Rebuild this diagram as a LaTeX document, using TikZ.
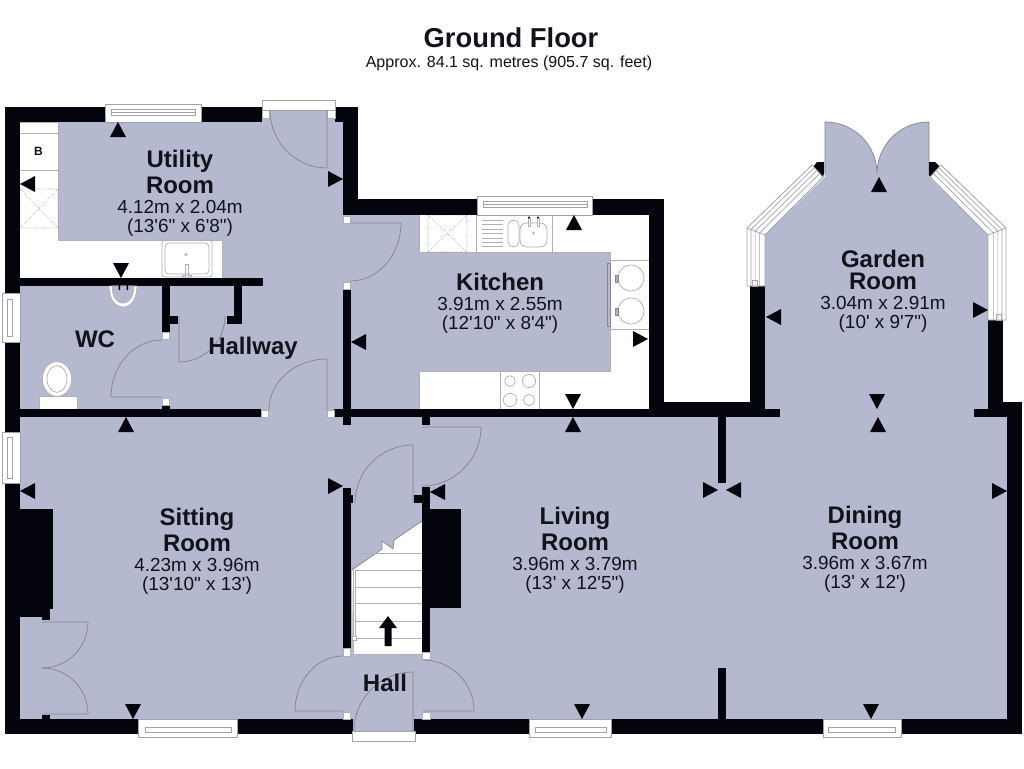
\documentclass[tikz,border=0pt]{standalone}
\usepackage{fontspec}
\usetikzlibrary{calc}
\newfontfamily\lsans{Liberation Sans}
\definecolor{roomc}{HTML}{B4B9CF}
\definecolor{wallc}{HTML}{04040C}
\definecolor{linec}{HTML}{85858F}
\definecolor{winc}{HTML}{A2A2A8}
\definecolor{unitc}{HTML}{B0B0B4}
\definecolor{txtc}{HTML}{12121C}
\newcommand{\nm}{\fontsize{18pt}{18.6pt}\selectfont\bfseries}
\newcommand{\dm}{\fontsize{14.2pt}{14.4pt}\selectfont}
\tikzset{
 roomfill/.style={fill=roomc,draw=none},
 wall/.style={fill=wallc,draw=none},
 doorln/.style={draw=linec,line width=.55pt},
 jamb/.style={fill=white,draw=unitc,line width=.4pt},
 winbox/.style={fill=white,draw=winc,line width=.6pt},
 winln/.style={draw=winc,line width=.5pt},
 unit/.style={draw=unitc,line width=.55pt},
 unitw/.style={fill=white,draw=unitc,line width=.55pt},
 hatch/.style={draw=linec,line width=.4pt,densely dotted},
 tipmark/.style={fill=wallc,draw=none},
 roomlbl/.style={font=\lsans\dm,text=txtc,align=center,inner sep=0pt},
}
\newcommand{\door}[4]{\draw[doorln] (#1) -- (#2) .. controls ($(#2)!.5523!(#3)$) and ($(#4)!.5523!(#3)$) .. (#4);}
\newcommand{\aup}[2]{\fill[tipmark] (#1,#2) -- ++(-8,15) -- ++(16,0) -- cycle;}
\newcommand{\adn}[2]{\fill[tipmark] (#1,#2) -- ++(-8,-15) -- ++(16,0) -- cycle;}
\newcommand{\alf}[2]{\fill[tipmark] (#1,#2) -- ++(15,-8) -- ++(0,16) -- cycle;}
\newcommand{\art}[2]{\fill[tipmark] (#1,#2) -- ++(-15,-8) -- ++(0,16) -- cycle;}
\newcommand{\wb}[4]{\fill[wall] (#1,#2) rectangle (#3,#4);}
\newcommand{\js}[2]{\draw[jamb] (#1,#2) rectangle ++(7.5,7.5);}
\begin{document}
\begin{tikzpicture}[x=.75pt,y=-.75pt]
\useasboundingbox (0,0) rectangle (1024,768);
\fill[white] (0,0) rectangle (1024,768);

% floors
\fill[roomfill] (20,122) -- (262,122) -- (262,110) -- (335,110) -- (335,122) -- (345,122) -- (345,215) -- (649,215) -- (649,409) -- (1007,409) -- (1007,719) -- (414,719) -- (414,731) -- (353,731) -- (353,719) -- (20,719) -- cycle;
\fill[roomfill] (765,412) -- (765,235) -- (825,177) -- (825,122) .. controls (854,122) and (877,145) .. (877,174) .. controls (877,145) and (900,122) .. (929,122) -- (929,177) -- (988,235) -- (988,412) -- cycle;
\draw[doorln] (825,175) -- (825,122) .. controls (854,122) and (877,145) .. (877,174) .. controls (877,145) and (900,122) .. (929,122) -- (929,175);

% utility units
\fill[white] (20,122) -- (58,122) -- (58,240) -- (222,240) -- (222,278) -- (20,278) -- cycle;
\draw[unit] (20,122) -- (58,122) -- (58,240) -- (222,240) -- (222,278);
\draw[unit] (20,133) -- (58,133) (20,170) -- (58,170);
\draw[hatch] (20,189) rectangle (58,228) (20,189) -- (58,228) (58,189) -- (20,228);
\draw[unit,rounded corners=2pt] (162,240) rectangle (212,277);
\draw[unit,rounded corners=3pt] (165,243) rectangle (209,274);
\draw[unit] (186,254.5) circle[radius=.9pt];
\draw[unit] (185,264) rectangle (188,274) (182,275) rectangle (185,278) (188,275) rectangle (191,278);

% kitchen units
\fill[white] (419,215) rectangle (649,252);
\fill[white] (610,215) rectangle (649,409);
\fill[white] (419,371) rectangle (649,409);
\draw[unit] (419,215) -- (419,252) -- (610,252) -- (610,371) -- (419,371) -- (419,409);
\draw[unit] (476,215) -- (476,252) (552,215) -- (552,252);
\draw[hatch] (428,215) rectangle (467,252) (428,215) -- (467,252) (467,215) -- (428,252);
\foreach \yy in {220,224.5,229,233.5,238,242.5,246.5} {\draw[unit] (482,\yy) -- (503,\yy);}
\draw[unit,rounded corners=4pt] (508,220) rectangle (519,247);
\draw[unit,rounded corners=5pt] (520,223) rectangle (547,247);
\draw[unit] (533.5,233) circle[radius=.9pt];
\draw[unitw] (528,218) rectangle (530,226) (537,218) rectangle (539,226);
\fill[wallc] (529,217.5) circle[radius=.8pt] (538,217.5) circle[radius=.8pt];
\draw[unit] (610,260) rectangle (649,329);
\draw[unit] (631,278) circle[radius=9.8pt] (631,311) circle[radius=9.8pt];
\draw[draw=linec,fill=unitc,line width=.4pt] (615,275) rectangle (618,282) (615,308) rectangle (618,315);
\draw[draw=linec,line width=.5pt] (607,263) rectangle (610,326);
\draw[unit] (500,371) -- (500,409) (539,371) -- (539,409);
\draw[unit] (510,381) circle[radius=4pt] (529,381) circle[radius=5pt] (510,400) circle[radius=5pt] (529,400) circle[radius=4.2pt];

% stairs
\fill[white] (352,570) -- (382,549) -- (382,541) -- (393,549) -- (394,540) -- (422,521) -- (422,654) -- (353,654) -- cycle;
\draw[doorln] (352,570) -- (382,549) -- (382,541) -- (393,549) -- (394,540) -- (422,521);
\draw[unit] (353,570) -- (353,654) -- (422,654);
\foreach \yy in {553,570,587,603,621,638} {\draw[unit] (355,\yy) -- (422,\yy);}
\draw[unit] (355,570) -- (355,636);
\draw[jamb] (352,636) rectangle (356,640.5);
\fill[wall] (379,628) -- (388,616) -- (397,628) -- (391.5,628) -- (391.5,646) -- (384.5,646) -- (384.5,628) -- cycle;

% outer and inner walls
\wb{5}{107}{20}{293}
\wb{5}{342}{20}{432}
\wb{5}{483}{20}{734}
\wb{5}{107}{105}{122}
\wb{201}{107}{262}{122}
\wb{335}{107}{358}{122}
\wb{343}{107}{358}{215}
\wb{343}{199}{477}{215}
\wb{592}{199}{664}{215}
\wb{649}{199}{664}{409}
\wb{649}{402}{765}{417}
\wb{750}{286}{765}{409}
\wb{988}{320}{1003}{409}
\wb{988}{402}{1022}{417}
\wb{1007}{402}{1022}{734}
\wb{5}{719}{353}{734}
\wb{414}{719}{1022}{734}
\wb{20}{278}{263}{286}
\wb{162}{286}{170}{332}
\wb{170}{316}{178}{324}
\wb{234}{286}{242}{324}
\wb{227}{316}{242}{324}
\wb{20}{409}{261}{417}
\wb{162}{405}{170}{409}
\wb{334}{409}{780}{417}
\wb{974}{409}{1022}{417}
\wb{343}{290}{351}{425}
\wb{422}{409}{430}{425}
\wb{343}{488}{351}{649}
\wb{343}{495}{353}{503}
\wb{422}{487}{430}{652}
\wb{414}{495}{430}{503}
\wb{430}{509}{461}{608}
\wb{20}{509}{53}{609}
\wb{20}{609}{50}{617}
\wb{42}{617}{50}{620}
\wb{42}{715}{50}{719}
\wb{718}{417}{726}{483}
\wb{718}{668}{726}{719}
\fill[wall] (813,167) -- (817,162) -- (824,162) -- (824,173) -- (823,177) -- cycle;
\fill[wall] (929,162) -- (935,162) -- (940,167) -- (930,177) -- (929,175) -- cycle;

% jambs
\js{262}{110.5} \js{327.5}{110.5}
\js{343}{216} \js{343}{282}
\js{162}{332} \js{162}{398}
\js{261}{410} \js{327}{410}
\js{343}{648.5} \js{422.5}{652}
\js{343}{712} \js{422.5}{712}

% windows
\draw[winbox] (105,104) rectangle (201,122);
\draw[winln] (111,109) rectangle (195,115) (111,112) -- (195,112);
\draw[winbox] (262,100) rectangle (335,110);
\draw[winbox] (477,196) rectangle (592,215);
\draw[winln] (483,201) rectangle (587,207) (483,204) -- (587,204);
\draw[winbox] (138,719) rectangle (237,737);
\draw[winln] (145,727) rectangle (231,732);
\draw[winbox] (529,719) rectangle (611,737);
\draw[winln] (535,727) rectangle (606,732);
\draw[winbox] (823,719) rectangle (901,737);
\draw[winln] (828,727) rectangle (895,732);
\draw[winbox] (352,731) rectangle (415,741);
\draw[winbox] (2,293) rectangle (20,342);
\draw[winln] (7,299) rectangle (12,336);
\draw[winbox] (2,432) rectangle (20,483);
\draw[winln] (7,437) rectangle (12,478);
% garden windows
\draw[winbox] (823,177) -- (812,165) -- (747,228) -- (747,286) -- (765,286) -- (765,235) -- cycle;
\draw[winln] (819.7,173.4) -- (759.6,232.9) -- (759.6,286) (817,170.4) -- (755.1,231.2) -- (755.1,286) (814.5,167.5) -- (751,229.5) -- (751,286) (747,228) -- (765,235);
\draw[winln] (752,280) rectangle (757,286);
\draw[winbox] (930,177) -- (941,165) -- (1006,228) -- (1006,320) -- (988,320) -- (988,235) -- cycle;
\draw[winln] (933.3,173.4) -- (993.4,232.9) -- (993.4,320) (936,170.4) -- (997.9,231.2) -- (997.9,320) (938.5,167.5) -- (1002,229.5) -- (1002,320) (1006,228) -- (988,235);
\draw[winln] (996,314) rectangle (1001,320);

% doors
\door{327,110}{327,168}{270,168}{270,110}
\door{350,223}{401,223}{401,281}{350,281}
\door{179,316}{179,362}{225,362}{225,316}
\door{162,397}{111,397}{111,340}{162,340}
\door{327,410}{327,359}{269,359}{269,410}
\door{422,427}{481,427}{481,486}{422,486}
\door{413,503}{413,445}{355,445}{355,503}
\door{343,711}{295,711}{295,656}{343,656}
\door{423,711}{474,711}{474,660}{423,660}
\door{413,731}{413,672}{354,672}{354,731}
\door{42,622}{88,622}{88,668}{42,668}
\door{42,714}{88,714}{88,668}{42,668}

% WC fittings
\draw[unitw] (109,286) .. controls (109,314) and (137,314) .. (137,286) -- cycle;
\draw[fill=roomc,draw=unitc,line width=.4pt] (112,286) .. controls (112,309) and (134,309) .. (134,286) -- cycle;
\draw[unit] (123,297) circle[radius=.7pt];
\fill[wallc] (118.5,285) rectangle (120,290) (126.5,285) rectangle (128,290);
\draw[unitw] (57,379) ellipse[x radius=11pt,y radius=13pt];
\draw[unit] (57,379) ellipse[x radius=7.5pt,y radius=10pt];
\fill[white] (39,396) rectangle (77,409);
\draw[unit] (39,409) -- (39,396) -- (77,396) -- (77,409);

% direction marks
\aup{118}{122} \alf{20}{184} \art{343}{179} \adn{121}{278}
\alf{351}{342} \aup{574}{215} \art{648}{339} \adn{573}{409}
\aup{126}{417} \alf{20}{491} \adn{133}{719} \art{343}{486}
\aup{573}{417} \alf{430}{492} \art{718}{490} \adn{582}{719}
\alf{726}{490} \aup{878}{417} \art{1007}{491} \adn{871}{719}
\aup{879}{177} \alf{766}{317} \art{988}{310} \adn{877}{409}

% labels
\node[font=\lsans\bfseries\fontsize{20.5pt}{24pt}\selectfont,text=txtc,inner sep=0pt] (title) at (511,38) {Ground Floor};
\node[font=\lsans\fontsize{12pt}{14pt}\selectfont,text=txtc,inner sep=0pt] (subtitle) at (509,63.5) {Approx. 84.1 sq. metres (905.7 sq. feet)};
\node[font=\lsans\fontsize{9pt}{10pt}\selectfont\bfseries,text=txtc,inner sep=0pt] (boiler) at (38.5,151) {B};
\node[roomlbl] (utility) at (180,193.5) {\nm Utility\\[1.9pt]\nm Room\\[.7pt]4.12m x 2.04m\\(13'6" x 6'8")};
\node[roomlbl] (kitchen) at (500,303.5) {\nm Kitchen\\[.7pt]3.91m x 2.55m\\(12'10" x 8'4")};
\node[roomlbl] (garden) at (883,291.5) {\nm Garden\\[1.9pt]\nm Room\\[.7pt]3.04m x 2.91m\\(10' x 9'7")};
\node[roomlbl] (sitting) at (197,551.5) {\nm Sitting\\[1.9pt]\nm Room\\[.7pt]4.23m x 3.96m\\(13'10" x 13')};
\node[roomlbl] (living) at (575,550.5) {\nm Living\\[1.9pt]\nm Room\\[.7pt]3.96m x 3.79m\\(13' x 12'5")};
\node[roomlbl] (dining) at (865,549.5) {\nm Dining\\[1.9pt]\nm Room\\[.7pt]3.96m x 3.67m\\(13' x 12')};
\node[roomlbl] (wc) at (95,339) {\nm WC};
\node[roomlbl] (hallway) at (253,348.5) {\nm Hallway};
\node[roomlbl] (hall) at (385,683) {\nm Hall};
\end{tikzpicture}
\end{document}
